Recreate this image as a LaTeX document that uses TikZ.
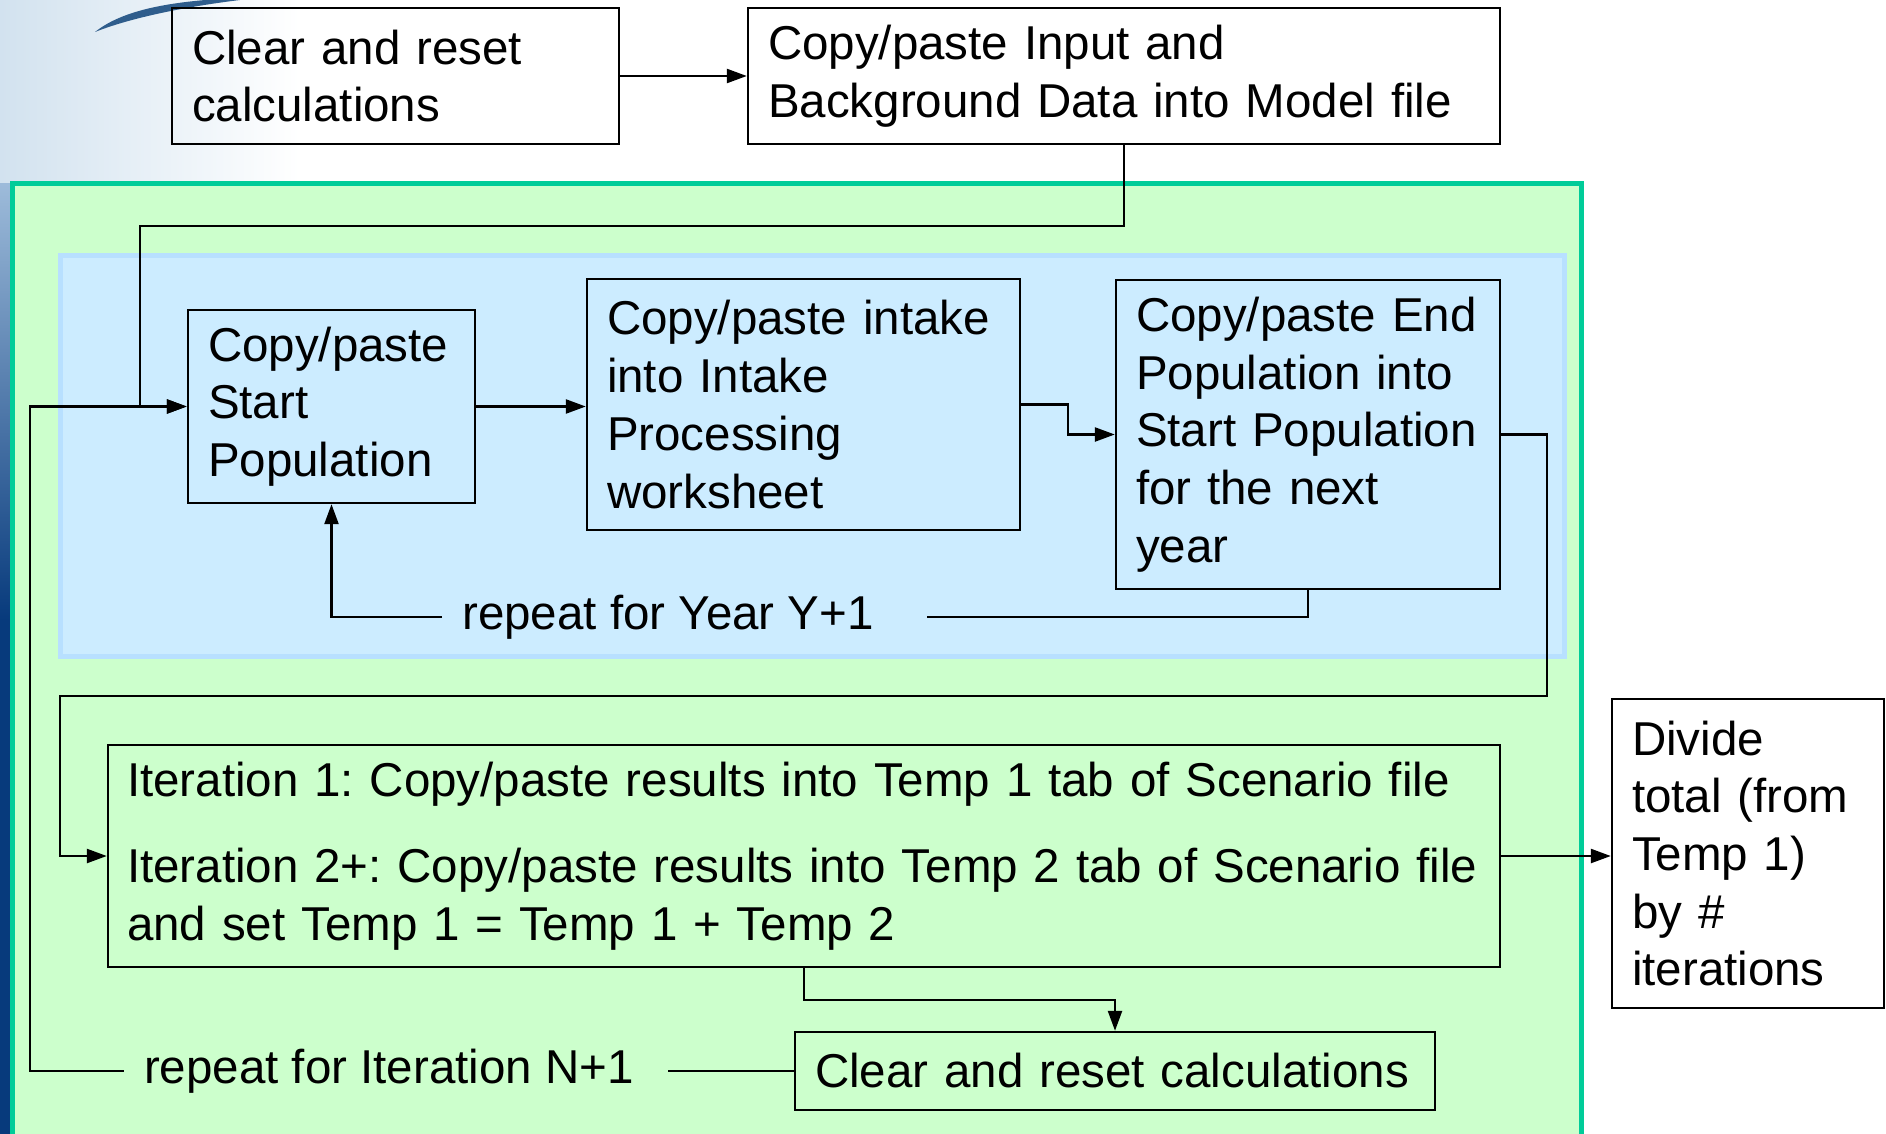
\documentclass[tikz,border=0pt]{standalone}
\usepackage{fontspec}
\setmainfont{Liberation Sans}
\usetikzlibrary{arrows.meta,calc}
\definecolor{teal1}{HTML}{00CC99}
\definecolor{green1}{HTML}{CCFFCC}
\definecolor{blueedge}{HTML}{B8E0FF}
\definecolor{blue1}{HTML}{CCECFF}
\definecolor{bgblue}{HTML}{D2E2EF}
\definecolor{stripblue}{HTML}{9DBBDA}
\definecolor{navy}{HTML}{073A7C}
\definecolor{swoosh}{HTML}{2F5D8C}
\frenchspacing
\begin{document}
\begin{tikzpicture}[x=1pt,y=-1pt,
  box/.style={draw=black,line width=2.4pt,align=left,inner xsep=20pt,inner ysep=0pt,
    font=\fontsize{47.5}{57.7}\selectfont},
  conn/.style={line width=2.4pt},
  arr/.style={conn,-{Triangle[length=20pt,width=14pt]}},
  lbl/.style={inner sep=0pt,font=\fontsize{47.5}{57.7}\selectfont}]
\useasboundingbox (0,0) rectangle (1886,1134);
% background
\fill[white] (0,0) rectangle (1886,1134);
\shade[left color=bgblue,right color=white] (0,0) rectangle (300,1134);
\fill[swoosh] (95,32) .. controls (120,12) and (160,4) .. (205,0) -- (240,0)
  .. controls (175,8) and (125,20) .. (95,32) -- cycle;
\shade[top color=stripblue,bottom color=navy] (0,184) rectangle (12,620);
\fill[navy] (0,620) rectangle (12,1134);
% regions
\draw[line width=5pt,draw=teal1,fill=green1] (12,184) rectangle (1581,1150);
\draw[line width=5pt,draw=blueedge,fill=blue1] (60,255) rectangle (1564,656);
% boxes
\node[box,text width=407pt,minimum height=136pt] (A) at (395.5,76)
  {Clear and reset\\calculations};
\node[box,text width=712pt,minimum height=136pt] (B) at (1124,76)
  {Copy/paste Input and\\Background Data into Model file};
\node[box,text width=247pt,minimum height=193pt] (C) at (331.5,406.5)
  {Copy/paste\\Start\\Population};
\node[box,text width=393pt,minimum height=251pt] (D) at (803.5,404.5)
  {Copy/paste intake\\into Intake\\Processing\\worksheet};
\node[box,text width=344pt,minimum height=309pt] (E) at (1308,434.5)
  {Copy/paste End\\Population into\\Start Population\\for the next\\year};
\node[box,inner xsep=19pt,text width=1354pt,minimum height=222pt] (F) at (804,856)
  {Iteration 1: Copy/paste results into Temp 1 tab of Scenario file\\[29pt]
   Iteration 2+: Copy/paste results into Temp 2 tab of Scenario file\\
   and set Temp 1 = Temp 1 + Temp 2};
\node[box,fill=white,text width=232pt,minimum height=309pt] (G) at (1748,853.5)
  {Divide\\total (from\\Temp 1)\\by \#\\iterations};
\node[box,text width=600pt,minimum height=78pt] (H) at (1115,1071)
  {Clear and reset calculations};
% labels
\node[lbl] (yl) at (668,617) {repeat for Year Y+1};
\node[lbl] (nl) at (389,1071) {repeat for Iteration N+1};
% junction coordinates
\coordinate (j1) at (140,226);
\coordinate (r1) at (1547,696);
\coordinate (l1) at (60,696);
\coordinate (lc) at (30,406.5);
% connectors
\draw[arr] (A.east) -- (B.west);
\draw[arr] (B.south) |- (j1) |- (C.west);
\draw[arr] (C.east) -- (C.east -| D.west);
\draw[arr] (D.east) -- ++(47,0) |- (E.west);
\draw[arr] (E.east) -| (r1) -- (l1) |- (F.west);
\draw[conn] (E.south) |- ([xshift=53pt]yl.east);
\draw[arr] ([xshift=-20pt]yl.west) -| (C.south);
\draw[arr] (F.east) -- (F.east -| G.west);
\draw[arr] (F.south) -- ++(0,32) -| (H.north);
\draw[conn] (H.west) -- ([xshift=34pt]nl.east);
\draw[arr] ([xshift=-20pt]nl.west) -| (lc) -- (C.west);
\end{tikzpicture}
\end{document}
